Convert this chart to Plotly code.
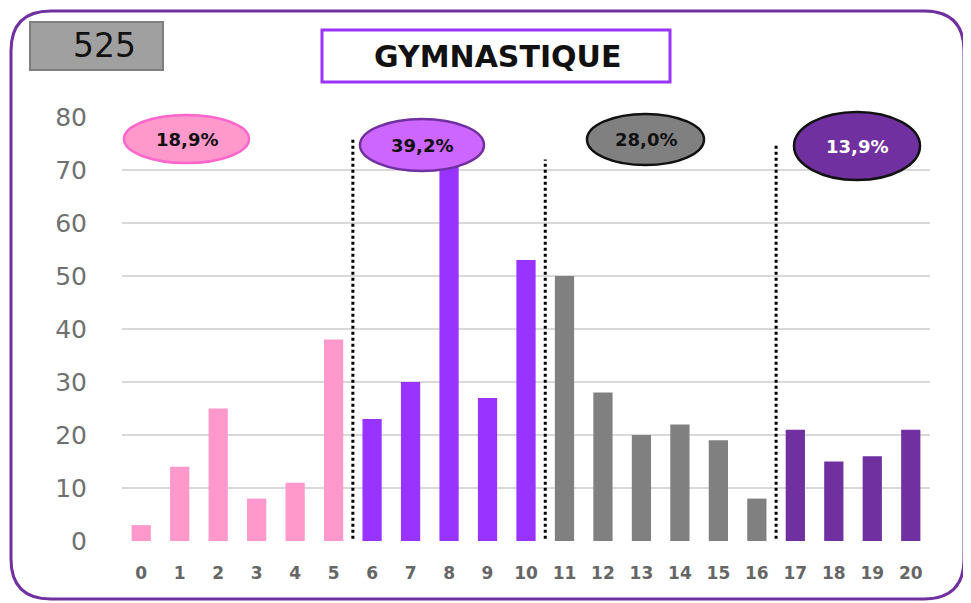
import plotly.graph_objects as go

# ---- data ----
notes = list(range(21))
effectifs = [3, 14, 25, 8, 11, 38, 23, 30, 73, 27, 53, 50, 28, 20, 22, 19, 8, 21, 15, 16, 21]
groups = [(0, 5), (6, 10), (11, 16), (17, 20)]
group_colors = ["#FF99CC", "#9933FF", "#808080", "#7030A0"]
ellipse_fill = ["#FF99CC", "#CC66FF", "#808080", "#7030A0"]
ellipse_line = ["#FF66CC", "#7030A0", "#111111", "#111111"]
ellipse_text = ["#111111", "#111111", "#111111", "#FFFFFF"]
separators = [5.5, 10.5, 16.5]
separator_tops = [76, 72, 75]
title = "GYMNASTIQUE"
y_ticks = [0, 10, 20, 30, 40, 50, 60, 70, 80]

total = sum(effectifs)

OFF = 8  # page body margin
W, H = 971 - OFF, 603 - OFF
L, R, T, B = 122, 930, 117, 541  # plot area in page pixels
FONT = "DejaVu Sans, Liberation Sans, Arial"


def px(x):
    return (x - L) / (R - L)


def py(y):
    return (B - y) / (B - T)


bar_colors = []
for i in notes:
    for g, (a, b) in enumerate(groups):
        if a <= i <= b:
            bar_colors.append(group_colors[g])

fig = go.Figure()
fig.add_trace(go.Bar(x=notes, y=effectifs, marker=dict(color=bar_colors, line_width=0),
                     width=0.5, hoverinfo="x+y"))

shapes = []
# outer rounded border
r = 40
x0, y0, x1, y1 = 11, 11, 964, 599
path = (f"M {px(x0+r)},{py(y0)} L {px(x1-r)},{py(y0)} Q {px(x1)},{py(y0)} {px(x1)},{py(y0+r)} "
        f"L {px(x1)},{py(y1-r)} Q {px(x1)},{py(y1)} {px(x1-r)},{py(y1)} "
        f"L {px(x0+r)},{py(y1)} Q {px(x0)},{py(y1)} {px(x0)},{py(y1-r)} "
        f"L {px(x0)},{py(y0+r)} Q {px(x0)},{py(y0)} {px(x0+r)},{py(y0)} Z")
shapes.append(dict(type="path", xref="paper", yref="paper", path=path,
                   line=dict(color="#7030A0", width=3), layer="below"))
# 525 box
shapes.append(dict(type="rect", xref="paper", yref="paper", x0=px(30), x1=px(163), y0=py(70), y1=py(22),
                   fillcolor="#A0A0A0", line=dict(color="#7F7F7F", width=2)))
# title box
shapes.append(dict(type="rect", xref="paper", yref="paper", x0=px(322), x1=px(670), y0=py(82), y1=py(30),
                   fillcolor="#FFFFFF", line=dict(color="#9933FF", width=3)))
# separators
for s, top in zip(separators, separator_tops):
    shapes.append(dict(type="line", xref="x", yref="y", x0=s, x1=s, y0=-0.7, y1=top,
                       line=dict(color="#000000", width=3, dash="dot"), layer="above"))

# ellipses (pixel boxes)
ell_boxes = [(124, 115, 249, 163), (360, 119, 484, 171), (587, 114, 704, 165), (794, 112, 920, 180)]
annotations = []
for g, (a, b) in enumerate(groups):
    s = sum(effectifs[a:b + 1])
    pct = f"{100 * s / total:.1f}%".replace(".", ",")
    ex0, ey0, ex1, ey1 = ell_boxes[g]
    shapes.append(dict(type="circle", xref="paper", yref="paper", x0=px(ex0), x1=px(ex1), y0=py(ey1), y1=py(ey0),
                       fillcolor=ellipse_fill[g], line=dict(color=ellipse_line[g], width=2.5), layer="above"))
    annotations.append(dict(xref="paper", yref="paper", x=px((ex0 + ex1) / 2), y=py((ey0 + ey1) / 2),
                            xanchor="center", yanchor="middle",
                            text=f"<b>{pct}</b>", showarrow=False,
                            font=dict(family=FONT, size=18, color=ellipse_text[g])))

annotations.append(dict(xref="paper", yref="paper", x=px(104), y=py(46), text=str(total), showarrow=False,
                        xanchor="center", yanchor="middle",
                        font=dict(family=FONT, size=33, color="#111111")))
annotations.append(dict(xref="paper", yref="paper", x=px(497), y=py(56), text=f"<b>{title}</b>", showarrow=False,
                        xanchor="center", yanchor="middle",
                        font=dict(family=FONT, size=30, color="#111111")))

fig.update_layout(
    width=W, height=H,
    margin=dict(l=L - OFF, r=W - (R - OFF), t=T - OFF, b=H - (B - OFF), pad=0),
    paper_bgcolor="#FFFFFF", plot_bgcolor="#FFFFFF",
    showlegend=False,
    shapes=shapes, annotations=annotations,
    xaxis=dict(tickmode="array", tickvals=notes, ticktext=[f"<b>{n}</b>" for n in notes],
               range=[-0.5, 20.5], showgrid=False, zeroline=False, showline=False, ticks="",
               tickfont=dict(family=FONT, size=17, color="#666666"),
               ticklabelstandoff=20),
    yaxis=dict(range=[0, 80], tickvals=y_ticks, showgrid=True, gridcolor="#D9D9D9", gridwidth=2,
               zeroline=False, showline=False, ticks="",
               tickfont=dict(family=FONT, size=25, color="#707070"),
               ticklabelstandoff=34),
)

fig.write_html("out.html")
